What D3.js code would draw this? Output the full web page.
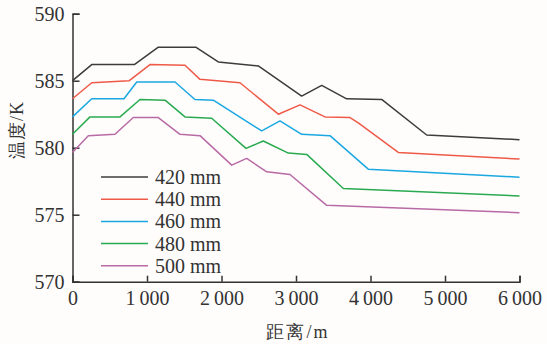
<!DOCTYPE html>
<html>
<head>
<meta charset="utf-8">
<script src="https://cdn.jsdelivr.net/npm/d3@7"></script>
<style>
  body { margin: 0; background: #fefdfc; }
  svg { display: block; }
  text { font-family: "Liberation Serif", "DejaVu Serif", serif; fill: #333; }
</style>
</head>
<body>
<div id="chart"></div>
<script>
// series names and colours
var seriesNames = ["420 mm", "440 mm", "460 mm", "480 mm", "500 mm"];
var seriesColors = ["#3c3c3c", "#ef5a48", "#1ba7e1", "#2aaa50", "#b86aa5"];

// distance (m) / temperature (K)
var s420 = [[0, 585.0], [258, 586.2], [830, 586.2], [1152, 587.5], [1654, 587.5], [1957, 586.4],
  [2494, 586.1], [3076, 583.85], [3345, 584.65], [3680, 583.65], [4150, 583.6], [4754, 580.95], [6000, 580.6]];
var s440 = [[0, 583.65], [258, 584.85], [762, 585.0], [1040, 586.2], [1510, 586.15], [1711, 585.1],
  [2248, 584.85], [2763, 582.5], [3054, 583.2], [3389, 582.3], [3725, 582.25], [3836, 581.85],
  [4373, 579.65], [6000, 579.15]];
var s460 = [[0, 582.3], [258, 583.65], [691, 583.65], [862, 584.9], [1376, 584.9], [1644, 583.6],
  [1890, 583.55], [2540, 581.25], [2785, 582.0], [3076, 581.0], [3456, 580.9], [3970, 578.4], [6000, 577.8]];
var s480 = [[0, 581.0], [235, 582.3], [638, 582.3], [906, 583.6], [1242, 583.55], [1510, 582.3],
  [1868, 582.2], [2329, 579.95], [2561, 580.5], [2897, 579.6], [3144, 579.5], [3635, 576.95], [6000, 576.4]];
var s500 = [[0, 579.65], [212, 580.9], [570, 581.0], [816, 582.25], [1152, 582.25], [1443, 581.0],
  [1711, 580.9], [2137, 578.7], [2338, 579.2], [2607, 578.2], [2919, 578.0], [3412, 575.7], [6000, 575.15]];
var allSeries = [s420, s440, s460, s480, s500];

var xTicks = [0, 1000, 2000, 3000, 4000, 5000, 6000];
var yTicks = [570, 575, 580, 585, 590];

var W = 547, H = 344;
var margin = {top: 13.7, right: 27.5, bottom: 62.3, left: 72.5};
var serif = "'Liberation Serif', 'DejaVu Serif', serif";

var svg = d3.select("#chart").append("svg")
  .attr("width", W)
  .attr("height", H);

var x = d3.scaleLinear().domain([0, 6000]).range([margin.left, W - margin.right]);
var y = d3.scaleLinear().domain([570, 590]).range([H - margin.bottom, margin.top]);

var fmt = function(d) { return d3.format(",")(d).replace(",", "\u2009"); };

// x axis, ticks pointing inward
var gx = svg.append("g")
  .attr("transform", `translate(0,${y(570)})`)
  .call(d3.axisBottom(x).tickValues(xTicks).tickSize(-6).tickPadding(9).tickFormat(fmt));

// y axis
var gy = svg.append("g")
  .attr("transform", `translate(${x(0)},0)`)
  .call(d3.axisLeft(y).tickValues(yTicks).tickSize(-7).tickPadding(8));

[gx, gy].forEach(function(g) {
  g.attr("font-family", serif).attr("font-size", 20);
  g.select(".domain").attr("stroke", "#333").attr("stroke-width", 1.5);
  g.selectAll(".tick line").attr("stroke", "#333").attr("stroke-width", 1.5);
  g.selectAll(".tick text").attr("fill", "#333");
});
gx.selectAll(".tick text").attr("dy", "0.71em");

// lines
var line = d3.line()
  .x(function(d) { return x(d[0]); })
  .y(function(d) { return y(d[1]); });

svg.selectAll(".series")
  .data(allSeries)
  .enter()
  .append("path")
  .attr("class", "series")
  .attr("d", line)
  .attr("fill", "none")
  .attr("stroke", function(d, i) { return seriesColors[i]; })
  .attr("stroke-width", 1.5)
  .attr("stroke-linejoin", "round");

// legend
var legend = svg.append("g")
  .attr("font-family", serif)
  .attr("font-size", 20);
seriesNames.forEach(function(name, i) {
  var ly = 177 + i * 22.2;
  legend.append("line")
    .attr("x1", 101).attr("x2", 148)
    .attr("y1", ly).attr("y2", ly)
    .attr("stroke", seriesColors[i])
    .attr("stroke-width", 1.5);
  legend.append("text")
    .attr("x", 155).attr("y", ly)
    .attr("dy", "0.35em")
    .text(name);
});

// axis titles
svg.append("text")
  .attr("x", 298).attr("y", 338)
  .attr("text-anchor", "middle")
  .attr("font-family", serif)
  .attr("font-size", 18)
  .attr("letter-spacing", 2)
  .text("距离/m");

svg.append("text")
  .attr("transform", "translate(23,130) rotate(-90)")
  .attr("text-anchor", "middle")
  .attr("font-family", serif)
  .attr("font-size", 18)
  .attr("letter-spacing", 1)
  .text("温度/K");
</script>
</body>
</html>
